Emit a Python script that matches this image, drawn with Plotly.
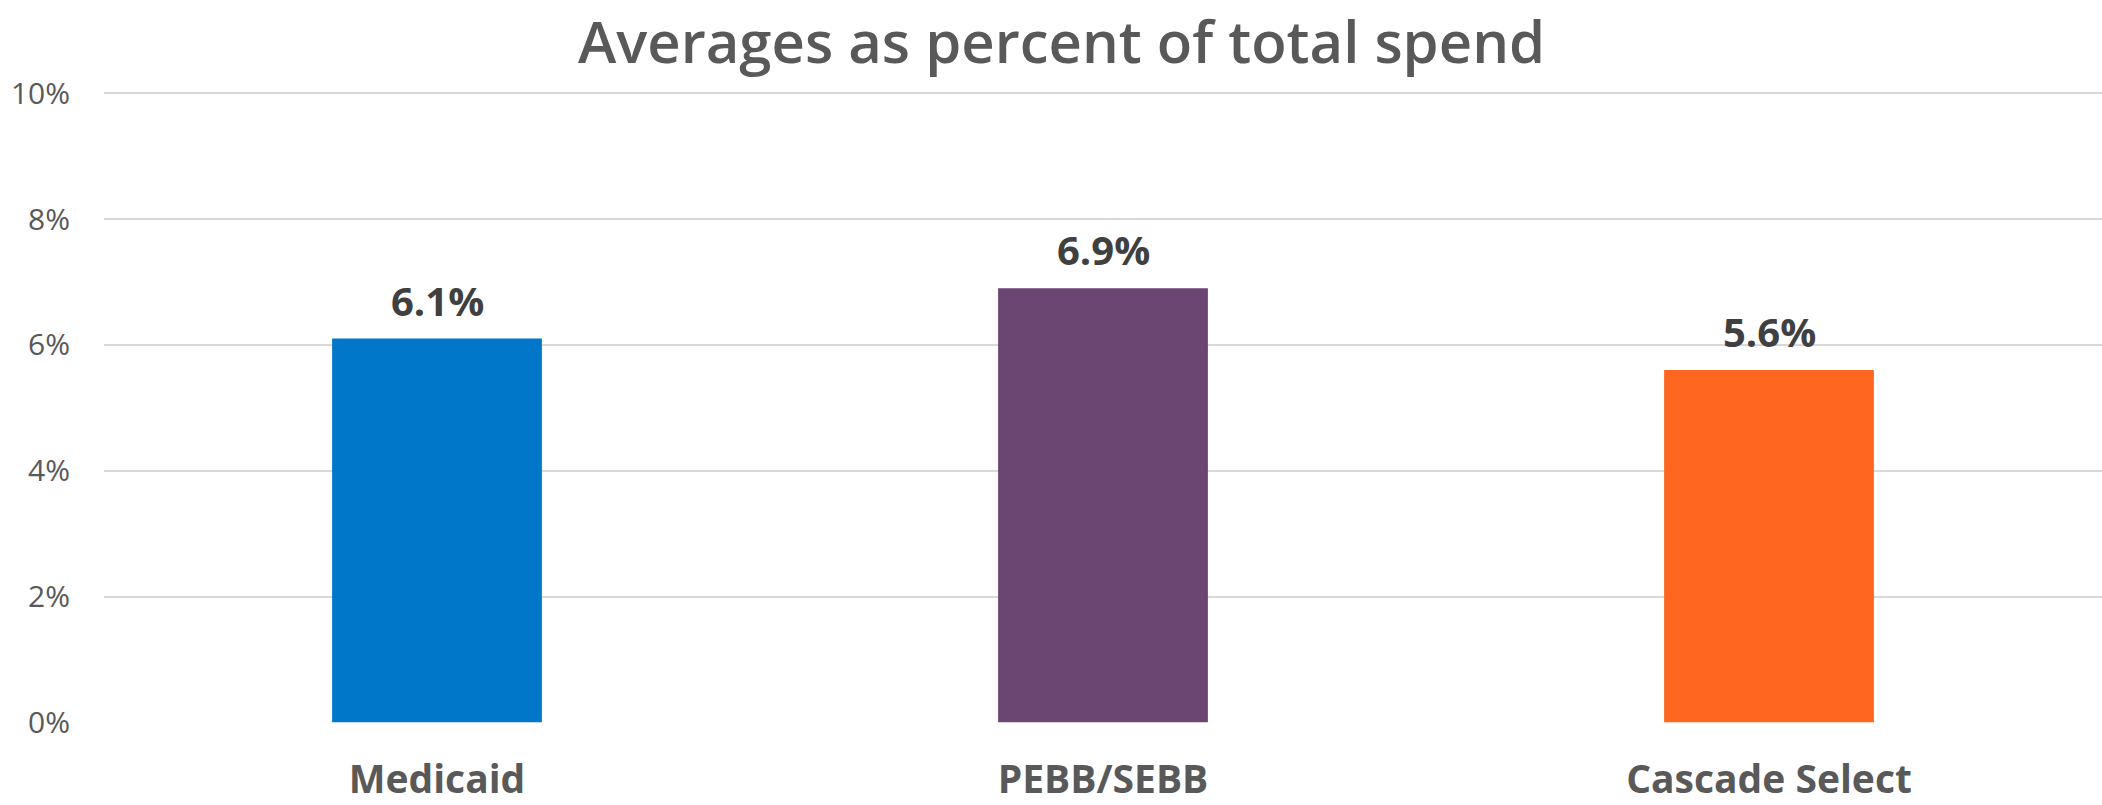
import plotly.graph_objects as go

categories = ["Medicaid", "PEBB/SEBB", "Cascade Select"]
values = [6.1, 6.9, 5.6]
colors = ["#0077C8", "#6B4673", "#FF6720"]
y_ticks = [0, 2, 4, 6, 8, 10]
y_tick_labels = ["0%", "2%", "4%", "6%", "8%", "10%"]

fig = go.Figure()
fig.add_trace(go.Bar(
    x=categories,
    y=values,
    marker=dict(color=colors, line=dict(width=0)),
    width=0.315,
    cliponaxis=False,
))

for c, v in zip(categories, values):
    fig.add_annotation(
        x=c, y=v, xref="x", yref="y",
        text=f"{v:.1f}%",
        showarrow=False,
        yanchor="bottom",
        yshift=9,
        font=dict(family="Open Sans", size=40, color="#404040", weight="bold"),
    )

fig.update_layout(
    width=2102,
    height=805,
    margin=dict(l=104, r=0, t=92, b=82),
    paper_bgcolor="white",
    plot_bgcolor="white",
    showlegend=False,
    title=dict(
        text="Averages as percent of total spend",
        x=0.505, xanchor="center",
        y=0.947, yanchor="middle",
        font=dict(family="Open Sans", size=58, color="#595959", weight=600),
    ),
    xaxis=dict(
        showgrid=False,
        showline=False,
        ticks="",
        automargin=False,
        tickfont=dict(family="Open Sans", size=39, color="#595959", weight="bold"),
        ticklabelstandoff=30,
    ),
    yaxis=dict(
        range=[-0.01, 10.02],
        tickvals=y_ticks,
        ticktext=y_tick_labels,
        showgrid=True,
        gridcolor="#d9d9d9",
        gridwidth=2,
        zeroline=False,
        showline=False,
        ticks="",
        automargin=False,
        tickfont=dict(family="Open Sans", size=30, color="#595959"),
        ticklabelstandoff=33,
    ),
)

fig.write_html("out.html")
